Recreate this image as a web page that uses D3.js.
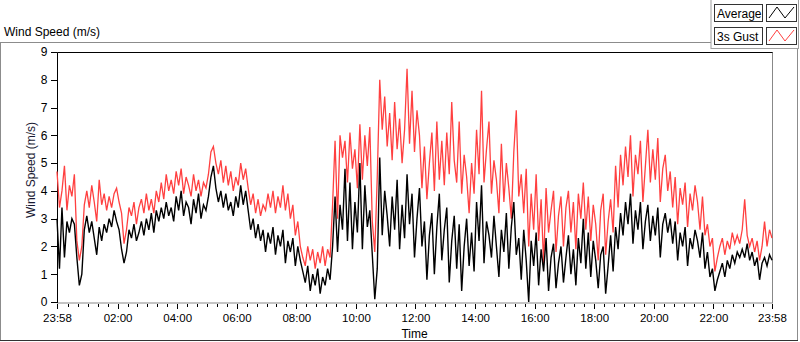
<!DOCTYPE html>
<html>
<head>
<meta charset="utf-8">
<script src="https://cdn.jsdelivr.net/npm/d3@7"></script>
<style>
  body { margin: 0; background: #fff; }
  svg { display: block; font-family: "Liberation Sans", Arial, sans-serif; }
</style>
</head>
<body>
<div id="chart"></div>
<script>
// one reading every 5 minutes, 23:58 -> 23:58 next day
var average = [
  3.0,1.2,3.4,1.6,2.9,2.5,3.0,2.8,1.6,0.6,1.0,2.6,
  3.1,2.5,2.9,2.3,1.7,2.7,2.2,2.8,2.5,3.0,2.7,3.3,
  2.9,2.6,1.9,1.4,1.8,2.6,2.3,2.8,2.2,2.5,2.9,2.4,
  3.0,2.6,3.2,2.5,3.3,2.9,3.4,3.0,3.6,3.1,3.4,2.9,
  3.8,3.3,4.0,3.1,3.6,3.4,2.8,3.7,3.2,3.9,3.0,3.5,
  3.3,3.8,4.5,4.9,4.1,3.6,4.0,3.4,3.9,3.3,3.6,3.1,
  3.8,3.4,4.2,3.5,4.0,3.3,2.6,3.0,2.3,2.8,2.2,2.6,
  1.8,2.5,2.1,2.7,1.7,2.4,2.0,2.6,1.4,2.2,1.8,2.3,
  1.3,2.0,1.5,1.1,0.7,1.3,0.4,1.0,0.6,1.2,0.3,0.9,
  0.6,1.2,0.8,2.0,3.8,1.8,3.5,2.6,4.8,2.2,4.3,1.9,
  3.6,2.5,5.0,1.9,4.2,2.7,3.3,1.7,0.1,1.2,5.2,2.4,
  4.0,3.1,2.0,3.8,2.6,4.4,1.9,3.5,2.3,4.6,2.8,3.9,
  1.6,3.0,4.1,2.0,2.9,0.8,2.4,3.2,1.0,2.7,3.9,1.5,
  2.6,3.4,0.7,2.2,3.1,1.2,2.8,0.4,2.0,3.0,1.3,2.5,
  1.1,3.6,2.2,4.2,1.4,2.9,2.4,1.6,3.1,2.0,0.9,2.6,
  1.8,3.2,1.2,2.7,3.6,1.7,2.3,0.8,2.6,1.5,0.0,2.2,
  1.3,2.5,0.6,1.9,1.1,2.3,0.4,1.6,2.1,0.5,1.4,2.0,
  0.7,1.6,2.4,1.0,1.9,0.6,2.3,1.4,3.0,1.2,2.5,0.9,
  2.2,1.5,0.5,1.7,2.0,0.3,1.3,2.4,1.1,2.7,1.9,3.2,
  2.4,3.6,2.8,3.9,2.1,3.3,2.6,3.6,1.9,2.9,3.5,2.2,
  3.1,2.4,3.4,1.6,2.8,3.2,2.5,3.0,2.1,2.9,1.5,2.5,
  2.0,2.7,1.3,2.3,1.9,2.6,2.2,1.6,2.5,1.2,1.8,0.9,
  1.2,0.4,0.8,1.1,1.4,0.9,1.5,1.2,1.7,1.4,1.8,1.6,
  1.9,1.6,2.1,1.5,1.8,1.3,1.6,0.8,1.4,1.6,1.3,1.7,
  1.5
];
var gust = [
  4.7,3.4,4.0,4.9,3.3,4.2,3.8,4.6,2.2,1.5,2.0,3.5,
  4.0,3.4,4.2,3.6,2.9,4.4,3.5,3.9,3.3,3.8,3.4,3.9,
  4.1,3.6,3.2,2.1,2.6,3.4,3.1,3.6,2.8,3.4,3.7,3.2,
  3.9,3.3,3.7,3.2,4.0,3.6,4.3,3.7,4.6,4.0,4.4,3.9,
  4.7,4.2,4.8,3.9,4.5,4.2,3.8,4.6,4.0,4.4,3.8,4.3,
  4.1,4.6,5.4,5.6,5.0,4.6,5.1,4.3,4.9,4.2,4.7,4.0,
  4.5,4.2,5.0,4.4,4.8,4.1,3.5,3.9,3.2,3.7,3.1,3.5,
  3.3,3.9,3.4,4.0,3.2,3.8,3.4,4.2,3.3,3.9,3.0,3.5,
  2.4,2.9,2.0,1.6,1.3,2.0,1.5,1.9,1.2,1.8,1.4,2.0,
  1.3,1.9,1.6,3.5,5.8,3.0,6.0,5.2,5.8,4.3,6.1,4.8,
  5.5,4.1,6.4,4.4,6.0,4.9,6.3,2.9,1.8,4.5,8.0,6.2,
  7.4,5.6,6.8,5.1,7.2,5.5,6.6,5.0,6.2,8.4,5.7,7.6,
  5.4,6.9,6.0,4.1,5.6,3.7,5.0,6.1,4.0,6.5,4.4,5.8,
  4.2,6.1,4.6,7.2,5.1,4.3,6.5,3.9,5.3,4.5,3.2,5.0,
  3.9,6.2,4.6,7.6,4.3,5.5,6.5,3.9,5.1,4.4,3.2,5.7,
  3.6,5.0,4.1,3.0,5.4,6.9,3.8,4.6,3.2,4.8,2.0,3.9,
  2.6,4.6,2.2,3.7,1.4,4.1,2.5,3.3,4.0,1.8,3.1,3.8,
  2.0,3.4,4.0,2.5,3.6,1.9,3.9,3.0,4.3,2.6,3.8,2.2,
  3.5,2.8,1.5,3.3,3.9,1.7,2.9,3.7,2.5,4.9,3.4,5.3,
  4.2,5.6,4.5,6.0,3.8,5.3,4.6,5.8,3.6,4.9,6.2,4.3,
  5.5,4.4,5.9,3.6,4.8,5.3,4.0,4.7,3.4,4.5,2.8,4.1,
  3.5,4.3,2.7,3.9,3.3,4.2,3.6,2.6,3.8,2.4,2.8,2.0,
  2.3,1.1,1.6,2.0,2.3,1.7,2.2,1.9,2.5,2.1,2.4,2.1,
  2.6,3.7,2.4,2.0,2.3,1.8,2.2,1.5,2.0,2.9,2.0,2.6,
  2.3
];
var yTicks = [0,1,2,3,4,5,6,7,8,9];
var seriesNames = ["Average", "3s Gust"];
var seriesColors = ["#000000", "#ff4040"];

var width = 800, height = 342;
var plot = {left: 57, top: 52, right: 772, bottom: 302};

var start = new Date(2015, 0, 1, 23, 58);
var end = new Date(start.getTime() + 24 * 3600 * 1000);
var timeOf = function(i) { return new Date(start.getTime() + i * 5 * 60 * 1000); };

var svg = d3.select("#chart").append("svg")
    .attr("width", width).attr("height", height);

// outer panel
svg.append("rect")
    .attr("x", 0.5).attr("y", 42.5).attr("width", 797).attr("height", 298)
    .attr("fill", "#fff").attr("stroke", "#8c8c8c");
svg.append("line")
    .attr("x1", 0).attr("x2", 798).attr("y1", 340.5).attr("y2", 340.5)
    .attr("stroke", "#333");

svg.append("text")
    .attr("x", 4).attr("y", 36)
    .attr("font-size", 12).attr("fill", "#000")
    .text("Wind Speed (m/s)");

var x = d3.scaleTime().domain([start, end]).range([plot.left, plot.right]);
var y = d3.scaleLinear().domain([0, 9]).range([plot.bottom, plot.top]);

// plot frame (inset look)
svg.append("rect")
    .attr("x", plot.left + 0.5).attr("y", plot.top + 0.5)
    .attr("width", plot.right - plot.left).attr("height", plot.bottom - plot.top + 0.5)
    .attr("fill", "#fff").attr("stroke", "#888");
svg.append("path")
    .attr("d", "M" + (plot.left + 0.5) + "," + (plot.bottom + 1) + "V" + (plot.top + 0.5) + "H" + (plot.right + 0.5))
    .attr("fill", "none").attr("stroke", "#000");

// lines
var line = function(vals) {
    return d3.line()
        .x(function(d, i) { return x(timeOf(i)); })
        .y(function(d) { return y(d); })(vals);
};
svg.append("path").attr("d", line(gust))
    .attr("fill", "none").attr("stroke", seriesColors[1]).attr("stroke-width", 1.3);
svg.append("path").attr("d", line(average))
    .attr("fill", "none").attr("stroke", seriesColors[0]).attr("stroke-width", 1.4);

// y axis
var yAxis = d3.axisLeft(y).tickValues(yTicks).tickSize(6).tickPadding(3);
var gy = svg.append("g").attr("transform", "translate(" + (plot.left - 0.5) + ",0)").call(yAxis);
gy.select(".domain").remove();
gy.selectAll("text").attr("font-size", 12).attr("font-family", "Liberation Sans, Arial, sans-serif").attr("fill", "#000");
gy.selectAll("line").attr("stroke", "#000");

// x axis: ends plus every 2h, minor every 20 min
var hours = d3.timeHour.every(2).range(start, end).filter(function(d) {
    return x(d) - x(start) > 20 && x(end) - x(d) > 20;
});
var major = [start].concat(hours).concat([end]);
var minor = d3.timeMinute.every(20).range(start, end).filter(function(d) {
    var far = x(d) - x(start) > 4 && x(end) - x(d) > 4;
    var isMajor = d.getMinutes() === 0 && d.getHours() % 2 === 0;
    return far && !isMajor;
});
var gxMinor = svg.append("g").attr("transform", "translate(0," + (plot.bottom + 1.5) + ")")
    .call(d3.axisBottom(x).tickValues(minor).tickSize(3).tickFormat(""));
gxMinor.select(".domain").remove();
var gx = svg.append("g").attr("transform", "translate(0," + (plot.bottom + 1.5) + ")")
    .call(d3.axisBottom(x).tickValues(major).tickSize(5).tickPadding(5).tickFormat(d3.timeFormat("%H:%M")));
gx.select(".domain").remove();
gx.selectAll("text").attr("font-size", 11.5).attr("font-family", "Liberation Sans, Arial, sans-serif").attr("fill", "#000");
svg.selectAll(".tick line").attr("stroke", "#000").attr("shape-rendering", "crispEdges");

svg.append("text")
    .attr("x", (plot.left + plot.right) / 2).attr("y", 338)
    .attr("text-anchor", "middle").attr("font-size", 12)
    .text("Time");
svg.append("text")
    .attr("transform", "translate(35,170) rotate(-90)")
    .attr("text-anchor", "middle").attr("font-size", 12).attr("fill", "#1a1a33")
    .text("Wind Speed (m/s)");

// legend
var lg = svg.append("g");
lg.append("rect").attr("x", 711).attr("y", -1).attr("width", 87.5).attr("height", 49.5)
    .attr("fill", "#fff").attr("stroke", "#a0a0a0");
seriesNames.forEach(function(name, k) {
    var top = 4 + k * 23;
    lg.append("rect").attr("x", 714.5).attr("y", top + 0.5).attr("width", 48).attr("height", 17)
        .attr("fill", "#fff").attr("stroke", "#333");
    lg.append("text").attr("x", 717).attr("y", top + 14).attr("font-size", 12).text(name);
    lg.append("rect").attr("x", 766.5).attr("y", top + 0.5).attr("width", 30).attr("height", 17)
        .attr("fill", "#fff").attr("stroke", "#333");
    lg.append("path")
        .attr("d", "M769," + (top + 14) + "L777," + (top + 3) + "L785," + (top + 14) + "L794," + (top + 3))
        .attr("fill", "none").attr("stroke", seriesColors[k]).attr("stroke-width", 1);
});
</script>
</body>
</html>
